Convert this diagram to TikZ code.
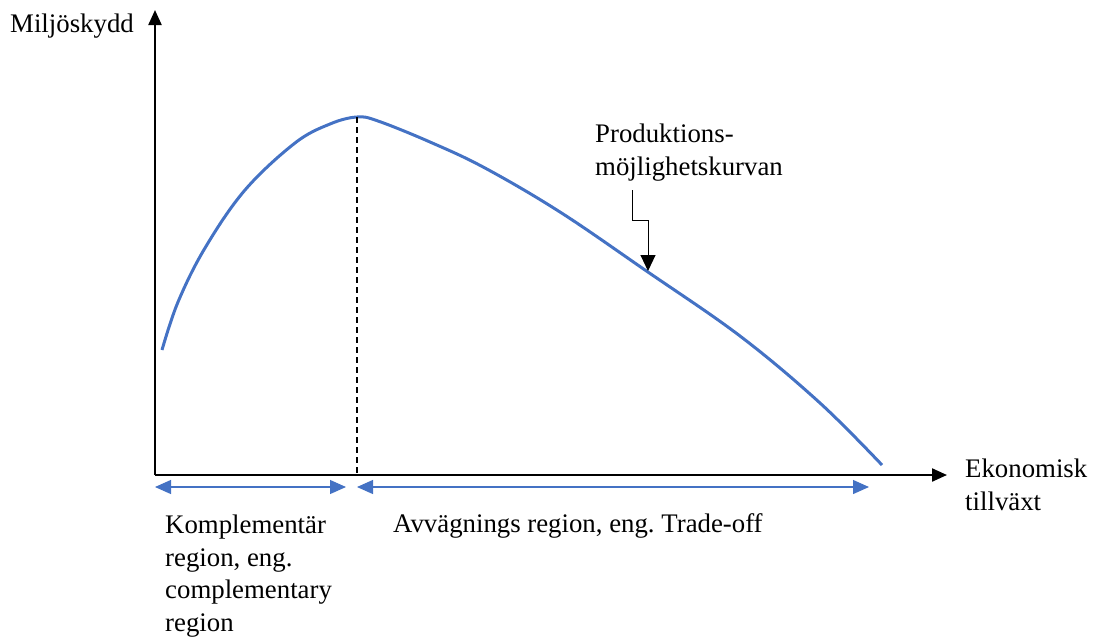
\documentclass[tikz,border=0pt]{standalone}
\usepackage{fontspec}
\setmainfont{Liberation Serif}
\usetikzlibrary{arrows.meta}
\definecolor{curveblue}{RGB}{68,114,196}
\frenchspacing
\begin{document}
\begin{tikzpicture}[x=1pt,y=-1pt,
  axis/.style={line width=2.2pt,-{Triangle[length=15pt,width=13pt]}},
  span/.style={curveblue,line width=1.2pt,{Triangle[length=16pt,width=14pt]}-{Triangle[length=16pt,width=14pt]}},
  lbl/.style={font=\fontsize{26.8}{32.5}\selectfont,inner sep=0pt},
  callout/.style={line width=1pt,-{Triangle[length=16pt,width=15pt]}}]
\useasboundingbox (0,0) rectangle (1095,638);
\coordinate (O) at (155,475);
\coordinate (ytop) at (155,10);
\coordinate (xend) at (947,475);
\draw[axis] (O) -- (ytop);
\draw[axis] (O) -- (xend);
\draw[curveblue,line width=3pt] plot[smooth,tension=0.6] coordinates {(162,350) (178,302) (205,248) (245,190) (295,143) (330,124) (357,117) (378,121) (430,142) (485,168) (560,212) (645,270) (740,336) (820,403) (882,465)};
\coordinate (peak) at (357,117);
\coordinate (peakfoot) at (357,475);
\draw[dashed,line width=1.3pt,dash pattern=on 6pt off 4pt] (peak) -- (peakfoot);
\coordinate (a1) at (155,487);
\coordinate (a2) at (346,487);
\coordinate (b1) at (357,487);
\coordinate (b2) at (869,487);
\draw[span] (a1) -- (a2);
\draw[span] (b1) -- (b2);
\node[lbl,anchor=base west] (ylab) at (10,32) {Miljöskydd};
\node[lbl,anchor=base west,align=left] (xlab) at (965,510) {Ekonomisk\\tillväxt};
\node[lbl,anchor=base west,align=left] (komp) at (165,631) {Komplementär\\region, eng.\\complementary\\region};
\node[lbl,anchor=base west] (avv) at (393,532) {Avvägnings region, eng. Trade-off};
\node[lbl,align=left,anchor=base west] (prod) at (595,175) {Produktions-\\möjlighetskurvan};
\coordinate (c1) at (632,190);
\coordinate (c2) at (632,220);
\coordinate (c3) at (648,220);
\coordinate (c4) at (648,271);
\draw[callout] (c1) -- (c2) -- (c3) -- (c4);
\end{tikzpicture}
\end{document}
